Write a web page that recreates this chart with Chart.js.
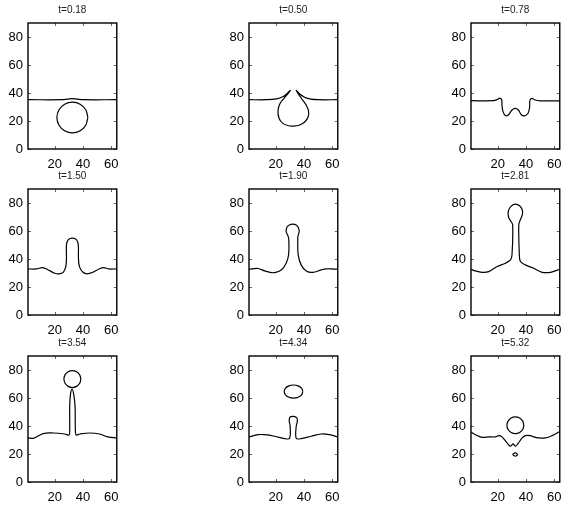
<!DOCTYPE html>
<html>
<head>
<meta charset="utf-8">
<script src="https://cdn.jsdelivr.net/npm/chart.js@4"></script>
<style>
html, body { margin: 0; padding: 0; background: #fff; overflow: hidden; }
#fig { position: relative; width: 562px; height: 506px; overflow: hidden; }
.panel { position: absolute; }
</style>
</head>
<body>
<div id="fig"></div>
<script>
// time labels of the 9 snapshots
const times = ['0.18', '0.50', '0.78', '1.50', '1.90', '2.81', '3.54', '4.34', '5.32'];
const xTicks = [20, 40, 60];
const yTicks = [0, 20, 40, 60, 80];

// interface contours, [x, y]
const surf018 = [[1,35.2],[25,35.2],[29,35.6],[32.5,36],[36,35.6],[40,35.2],[64,35.2]];
const bub018 = [[43.5,22.5],[42,28],[38,32],[32.5,33.5],[27,32],[23,28],[21.5,22.5],[23,17],[27,13],[32.5,11.5],[38,13],[42,17],[43.5,22.5]];

const surf050 = [[1,35.2],[14,35.2],[20.5,35.8],[25,37.3],[28,39.6],[30.3,41.9],[28.5,39.3],[26,36.4],[23,32.5],[21.6,27.5],[22.3,22],[25,18.3],[29,16.6],[32.5,16.4],[36.5,17],[40.5,19.3],[43,23],[43.2,27.5],[41.5,31.5],[38.8,35.3],[36.6,38.5],[34.5,41.9],[37,39.3],[40.5,37],[45,35.6],[50,35.2],[64,35.2]];

const surf078 = [[1,34.5],[17,34.5],[19.5,35.3],[21.5,36.3],[22.8,35],[23,31],[23.8,26.5],[25.4,23.9],[27.5,24.3],[29.8,27.5],[32,29],[34.5,28],[36.7,24.5],[39,23.7],[41.5,25.5],[42.6,30],[42.8,34.5],[44.2,36.2],[46.5,35],[50,34.4],[64,34.4]];

const surf150 = [[1,32.9],[7,32.9],[11.4,33.9],[15.4,32.2],[20,29.8],[23.1,29.4],[26,30.5],[27.8,34.6],[28.3,40.6],[28.3,50.1],[29.5,53.7],[32.5,54.9],[35.5,53.7],[36.7,50.1],[36.8,40.6],[37.5,34.6],[40,30.5],[43,29.4],[47.1,30.5],[51.4,32.9],[54.6,33.9],[58.4,32.9],[64,32.9]];

const surf190 = [[1,32.7],[7.4,33.2],[12.1,31.5],[16,30.4],[19.2,30.3],[23.9,32.2],[27.4,37],[29.1,43],[29.3,52.5],[28.8,56.1],[27.4,59.5],[28,62.8],[30,64.5],[32.1,64.9],[34.5,64.3],[36,62.5],[36.6,59.7],[35.7,56.1],[35.6,52.5],[35.9,43],[38,35.8],[41.6,31.5],[46.3,30.5],[52.2,32.2],[56,33],[59.3,32.9],[64,32.7]];

const surf281 = [[1,32.7],[4.1,31.5],[8.8,30.5],[13.6,31],[19.5,34.6],[25.4,37],[29,39.4],[30.1,43],[30.6,64.4],[29.4,66.8],[27.6,70],[27.6,74.5],[29.5,77.8],[32.5,79.2],[35.5,78],[37.4,75],[37.4,71.6],[35.8,67.5],[34.9,64.4],[35.3,43],[36.1,38.2],[39.6,35.8],[45.5,33.4],[51.5,30.5],[57.4,30.5],[64,32.7]];

const surf354 = [[1,31.5],[4.8,31.2],[11.8,34.6],[18.9,35],[27.1,34.3],[30.2,33.6],[30.6,38.6],[30.6,54],[31.1,62.2],[32.3,66.5],[33.5,62.2],[34.4,54],[34.6,38.6],[35.1,33.6],[37.7,34.3],[44.8,35],[51.8,34.3],[57.7,32.2],[64,31.5]];
const drop354 = [[38.5,73.5],[37.7,76.5],[35.5,78.7],[32.5,79.5],[29.5,78.7],[27.3,76.5],[26.5,73.5],[27.3,70.5],[29.5,68.3],[32.5,67.5],[35.5,68.3],[37.7,70.5],[38.5,73.5]];

const surf434 = [[1,32.2],[7.4,33.8],[12.1,33.8],[19.2,32.7],[26.2,31],[29.8,31.2],[30.2,39.8],[29.5,44],[30.2,46.4],[32.6,46.9],[34.9,45.9],[35.3,43.3],[34.5,39.8],[34.5,31.2],[38,31],[45.1,32.7],[52.2,34.3],[58.1,33.8],[64,32.2]];
const drop434 = [[39.2,64.6],[38.3,67],[35.9,68.7],[32.6,69.3],[29.3,68.7],[26.9,67],[26,64.6],[26.9,62.2],[29.3,60.5],[32.6,59.9],[35.9,60.5],[38.3,62.2],[39.2,64.6]];

const surf532 = [[1,35.7],[4.1,33.8],[8.8,31.9],[13.6,32.2],[18.3,32.2],[20.7,33.1],[23,32.2],[26.6,27.9],[28.9,25.6],[30.9,27.2],[32.5,25.6],[34.4,27.5],[37.3,31.5],[39.6,33.1],[43.2,33.1],[45.5,32.2],[49.1,31.5],[53.8,31.5],[58.6,33.1],[62.1,35],[64,36]];
const drop532 = [[38.5,40.5],[37.7,43.5],[35.5,45.7],[32.5,46.5],[29.5,45.7],[27.3,43.5],[26.5,40.5],[27.3,37.5],[29.5,35.3],[32.5,34.5],[35.5,35.3],[37.7,37.5],[38.5,40.5]];
const tiny532 = [[34.3,19.6],[32.5,20.8],[30.7,19.6],[32.5,18.4],[34.3,19.6]];

const curves = [
    [surf018, bub018], [surf050], [surf078],
    [surf150], [surf190], [surf281],
    [surf354, drop354], [surf434, drop434], [surf532, drop532, tiny532]
];

// plot boxes on the page
const colLeft = [28, 249, 471];
const rowTop = [23, 189, 356];
const plotW = 89, plotH = 126;
const padL = 28, padT = 22, padR = 10, padB = 20;

const labelFont = { family: '"Liberation Sans", Arial, Helvetica, sans-serif', size: 13 };

function makeFrame(title) {
    return {
        id: 'frame',
        afterDraw(chart) {
            const { ctx, chartArea: a, scales } = chart;
            ctx.save();
            // ticks pointing inward, on all four sides
            ctx.strokeStyle = '#666';
            ctx.lineWidth = 1;
            ctx.beginPath();
            scales.x.ticks.forEach(t => {
                const px = Math.round(scales.x.getPixelForValue(t.value)) + 0.5;
                ctx.moveTo(px, a.bottom); ctx.lineTo(px, a.bottom - 3);
                ctx.moveTo(px, a.top); ctx.lineTo(px, a.top + 3);
            });
            scales.y.ticks.forEach(t => {
                const py = Math.round(scales.y.getPixelForValue(t.value)) + 0.5;
                ctx.moveTo(a.left, py); ctx.lineTo(a.left + 3, py);
                ctx.moveTo(a.right, py); ctx.lineTo(a.right - 3, py);
            });
            ctx.stroke();
            ctx.strokeStyle = '#000';
            ctx.lineWidth = 1.4;
            ctx.strokeRect(a.left, a.top, a.right - a.left, a.bottom - a.top);
            ctx.fillStyle = '#222';
            ctx.font = '10px "Liberation Sans", Arial, sans-serif';
            ctx.textAlign = 'center';
            ctx.textBaseline = 'middle';
            ctx.fillText(title, (a.left + a.right) / 2, a.top - 13);
            ctx.restore();
        }
    };
}

const fig = document.getElementById('fig');

curves.forEach((list, i) => {
    const col = i % 3, row = Math.floor(i / 3);
    const w = padL + plotW + padR, h = padT + plotH + padB;
    const div = document.createElement('div');
    div.className = 'panel';
    div.style.left = (colLeft[col] - padL) + 'px';
    div.style.top = (rowTop[row] - padT) + 'px';
    const cv = document.createElement('canvas');
    cv.width = w; cv.height = h;
    cv.style.width = w + 'px'; cv.style.height = h + 'px';
    div.appendChild(cv);
    fig.appendChild(div);

    new Chart(cv.getContext('2d'), {
        type: 'scatter',
        data: {
            datasets: list.map(pts => ({
                data: pts.map(p => ({ x: p[0], y: p[1] })),
                showLine: true,
                borderColor: '#000',
                borderWidth: 1.2,
                pointRadius: 0,
                tension: 0.35,
                fill: false
            }))
        },
        options: {
            responsive: false,
            animation: false,
            devicePixelRatio: 1,
            layout: { padding: { top: padT, right: padR, left: 0, bottom: 0 } },
            plugins: { legend: { display: false }, tooltip: { enabled: false } },
            scales: {
                x: {
                    type: 'linear', min: 1, max: 64,
                    grid: { display: false, drawTicks: false }, border: { display: false },
                    ticks: { color: '#000', font: labelFont, padding: 8, maxRotation: 0 },
                    afterBuildTicks: s => { s.ticks = xTicks.map(v => ({ value: v })); },
                    afterFit: s => { s.height = padB; }
                },
                y: {
                    type: 'linear', min: 0, max: 90,
                    grid: { display: false, drawTicks: false }, border: { display: false },
                    ticks: { color: '#000', font: labelFont, padding: 5 },
                    afterBuildTicks: s => { s.ticks = yTicks.map(v => ({ value: v })); },
                    afterFit: s => { s.height; s.width = padL; }
                }
            }
        },
        plugins: [makeFrame('t=' + times[i])]
    });
});
</script>
</body>
</html>
